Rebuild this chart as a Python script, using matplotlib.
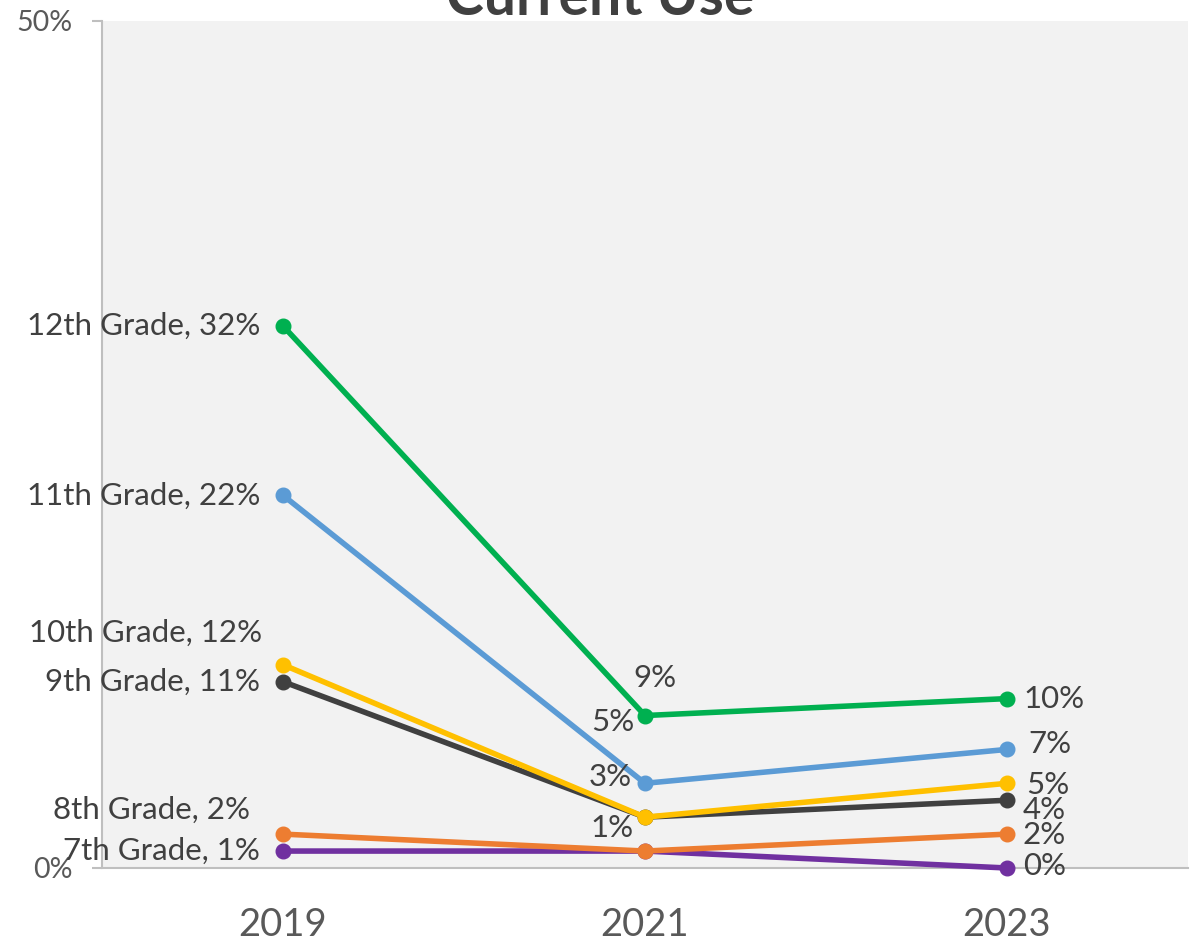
import matplotlib.pyplot as plt

# Chart data (percent of students reporting current use)
years = ['2019', '2021', '2023']
grades = ['7th Grade', '8th Grade', '9th Grade', '10th Grade', '11th Grade', '12th Grade']
values = {
    '7th Grade': [1, 1, 0],
    '8th Grade': [2, 1, 2],
    '9th Grade': [11, 3, 4],
    '10th Grade': [12, 3, 5],
    '11th Grade': [22, 5, 7],
    '12th Grade': [32, 9, 10],
}
colors = {
    '7th Grade': '#7030a0',
    '8th Grade': '#ed7d31',
    '9th Grade': '#404040',
    '10th Grade': '#ffc000',
    '11th Grade': '#5b9bd5',
    '12th Grade': '#00b050',
}
# which points carry a data label (Excel hid the overlapping ones)
show_label = {
    '7th Grade': [True, False, True],
    '8th Grade': [True, True, True],
    '9th Grade': [True, False, True],
    '10th Grade': [True, True, True],
    '11th Grade': [True, True, True],
    '12th Grade': [True, True, True],
}
# label offsets in pixels from the point (dx, dy, horizontal alignment)
label_offsets = {
    '7th Grade': [(-23, 0, 'right'), None, (16, 2, 'left')],
    '8th Grade': [(-33, 24, 'right'), (-33, 23, 'center'), (16, -1, 'left')],
    '9th Grade': [(-23, 0, 'right'), None, (16, -10, 'left')],
    '10th Grade': [(-21, 32, 'right'), (-35, 40, 'center'), (19, -2, 'left')],
    '11th Grade': [(-23, 0, 'right'), (-32, 61, 'center'), (21, 5, 'left')],
    '12th Grade': [(-23, 0, 'right'), (10, 38, 'center'), (16, 0, 'left')],
}

plt.rcParams['font.family'] = ['Lato', 'DejaVu Sans']

W, H = 1196, 942
fig = plt.figure(figsize=(W / 100, H / 100), dpi=100)
ax = fig.add_axes([102 / W, (H - 868) / H, (1188 - 102) / W, (868 - 21) / H])
ax.set_facecolor('#f2f2f2')

xs = [0.5, 1.5, 2.5]
for g in grades:
    ax.plot(xs, values[g], color=colors[g], lw=4.0, marker='o', ms=10.5,
            solid_capstyle='round', clip_on=False, zorder=3)
    for i, v in enumerate(values[g]):
        if not show_label[g][i]:
            continue
        dx, dy, ha = label_offsets[g][i]
        text = '{}%'.format(v)
        if i == 0:
            text = '{}, {}%'.format(g, v)
        ax.annotate(text, (xs[i], v), xytext=(dx, dy), textcoords='offset pixels',
                    ha=ha, va='center', fontsize=22.5, color='#404040', zorder=5,
                    annotation_clip=False)

ax.set_xlim(0, 3)
ax.set_ylim(0, 50)
ax.set_yticks([0, 50])
ax.set_yticklabels(['0%', '50%'], fontsize=20.5, color='#595959')
ax.set_xticks(xs)
ax.set_xticklabels(years, fontsize=27.5, color='#595959')
ax.tick_params(axis='x', length=0, pad=28)
ax.tick_params(axis='y', length=7, width=1.5, color='#bfbfbf', pad=14)

for side in ['top', 'right']:
    ax.spines[side].set_visible(False)
for side in ['left', 'bottom']:
    ax.spines[side].set_color('#bfbfbf')
    ax.spines[side].set_linewidth(1.5)
    ax.spines[side].set_zorder(2)

fig.text(600 / W, 1 - 15 / H, 'Current Use', ha='center', va='baseline',
         fontsize=41, fontweight='bold', color='#404040')

fig.savefig('out.png', dpi=100)
